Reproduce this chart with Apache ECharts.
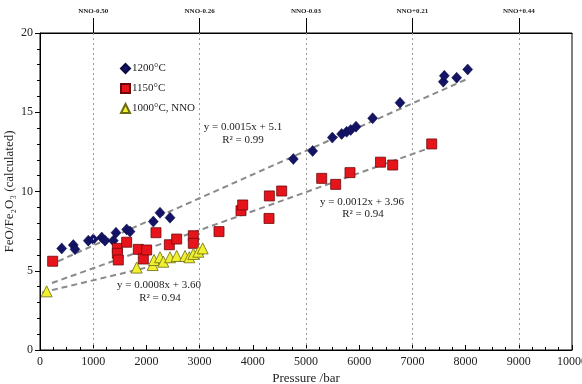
<!DOCTYPE html>
<html>
<head>
<meta charset="utf-8">
<script src="https://cdn.jsdelivr.net/npm/echarts@6/dist/echarts.min.js"></script>
<style>
  html, body { margin: 0; padding: 0; background: #fff; }
  #chart-container { width: 582px; height: 384px; }
</style>
</head>
<body>
<div id="chart-container"></div>
<script>
var dom = document.getElementById('chart-container');
var myChart = echarts.init(dom, null, { renderer: 'canvas' });

// data: [pressure bar, FeO/Fe2O3]
var pts1200 = [
  [408, 6.41], [626, 6.62], [658, 6.35], [908, 6.9], [1002, 6.98], [1160, 7.1],
  [1222, 6.9], [1378, 6.9], [1428, 7.4], [1629, 7.61], [1692, 7.47], [2130, 8.1],
  [2256, 8.66], [2444, 8.35], [4762, 12.05], [5125, 12.56], [5495, 13.4],
  [5670, 13.63], [5764, 13.77], [5840, 13.88], [5940, 14.09], [6253, 14.62],
  [6767, 15.6], [7581, 16.93], [7600, 17.3], [7832, 17.18], [8039, 17.7]
];
var pts1150 = [
  [238, 5.6], [1454, 6.41], [1454, 6.1], [1472, 5.68], [1629, 6.8], [1848, 6.35],
  [1942, 5.74], [2005, 6.31], [2180, 7.4], [2431, 6.64], [2569, 7.0], [2882, 7.21],
  [2882, 6.73], [3365, 7.47], [3778, 8.79], [3810, 9.15], [4305, 8.3], [4311, 9.72],
  [4543, 10.03], [5295, 10.83], [5558, 10.45], [5827, 11.19], [6400, 11.85],
  [6630, 11.67], [7363, 13.0]
];
var pts1000 = [
  [125, 3.7], [1817, 5.2], [2118, 5.36], [2143, 5.68], [2256, 5.85], [2318, 5.57],
  [2444, 5.85], [2569, 5.93], [2726, 5.93], [2806, 5.85], [2882, 6.06], [2976, 6.2],
  [3058, 6.41]
];
// trend line ends
var fit1200 = [[340, 5.6], [8030, 17.1]];
var fit1150 = [[225, 4.23], [7330, 12.76]];
var fit1000 = [[40, 3.63], [3150, 6.12]];

var nnoPressure = [1000, 3000, 5000, 7000, 9000];
var nnoLabels = ['NNO-0.50', 'NNO-0.26', 'NNO-0.03', 'NNO+0.21', 'NNO+0.44'];

var serif = 'Liberation Serif';
var fitStyle = { color: '#8a8a8a', width: 2, type: [6, 4] };

var option = {
  animation: false,
  textStyle: { fontFamily: serif },
  grid: {
    left: 40, right: 10, top: 33, bottom: 34, show: true,
    borderColor: '#000', borderWidth: 1, outerBoundsMode: 'none', containLabel: false
  },
  legend: {
    orient: 'vertical', left: 115, top: 58, itemGap: 9, itemWidth: 9, itemHeight: 9,
    textStyle: { fontFamily: serif, fontSize: 11, color: '#222', padding: [0, 0, 0, -3] },
    data: [
      { name: '1200°C', icon: 'diamond' },
      { name: '1150°C', icon: 'rect' },
      { name: '1000°C, NNO', icon: 'triangle' }
    ]
  },
  xAxis: [
    {
      type: 'value', min: 0, max: 10000, interval: 1000,
      name: 'Pressure /bar', nameLocation: 'middle', nameGap: 22, nameMoveOverlap: false,
      nameTextStyle: { fontFamily: serif, fontSize: 13, color: '#222' },
      axisLine: { lineStyle: { color: '#000' } },
      axisTick: { inside: true, length: 5, lineStyle: { color: '#000' } },
      minorTick: { show: true, splitNumber: 4, length: 3, lineStyle: { color: '#000' } },
      axisLabel: {
        fontFamily: serif, fontSize: 12, color: '#222', margin: 6,
        formatter: function (v) { return String(v); }
      },
      splitLine: { show: false }
    },
    {
      type: 'value', min: 0, max: 10000, position: 'top',
      axisLine: { show: true, lineStyle: { color: '#000' } },
      axisTick: { show: true, customValues: nnoPressure, length: 15, lineStyle: { color: '#000' } },
      axisLabel: {
        customValues: nnoPressure, margin: 18, fontFamily: serif, fontSize: 7,
        fontWeight: 'bold', color: '#222',
        formatter: function (v) { return nnoLabels[nnoPressure.indexOf(v)] || ''; }
      },
      splitLine: { show: false }
    }
  ],
  yAxis: {
    type: 'value', min: 0, max: 20, interval: 5,
    name: 'FeO/Fe₂O₃ (calculated)', nameLocation: 'middle', nameGap: 24, nameMoveOverlap: false,
    nameTextStyle: { fontFamily: serif, fontSize: 13, color: '#222' },
    axisLine: { show: true, lineStyle: { color: '#000' } },
    axisTick: { show: true, length: 5, lineStyle: { color: '#000' } },
    minorTick: { show: true, splitNumber: 5, length: 3, lineStyle: { color: '#000' } },
    axisLabel: { fontFamily: serif, fontSize: 12, color: '#222', margin: 7 },
    splitLine: { show: false }
  },
  series: [
    {
      type: 'line', data: fit1200, symbol: 'none', lineStyle: fitStyle, silent: true, z: 1,
      markLine: {
        silent: true, symbol: 'none', label: { show: false },
        lineStyle: { color: '#999', width: 1, type: [2, 3] },
        data: nnoPressure.map(function (p) { return { xAxis: p }; })
      }
    },
    { type: 'line', data: fit1150, symbol: 'none', lineStyle: fitStyle, silent: true, z: 1 },
    { type: 'line', data: fit1000, symbol: 'none', lineStyle: fitStyle, silent: true, z: 1 },
    {
      name: '1200°C', type: 'scatter', data: pts1200, symbol: 'diamond', symbolSize: [10, 11],
      itemStyle: { color: '#141466', borderColor: '#0a0a40', borderWidth: 0.5, opacity: 1 }, z: 3
    },
    {
      name: '1150°C', type: 'scatter', data: pts1150, symbol: 'rect', symbolSize: 10,
      itemStyle: { color: '#e8141c', borderColor: '#6a0a0a', borderWidth: 0.8, opacity: 1 }, z: 3
    },
    {
      name: '1000°C, NNO', type: 'scatter', data: pts1000, symbol: 'triangle', symbolSize: 11,
      itemStyle: { color: '#f0f030', borderColor: '#6b6b10', borderWidth: 0.8, opacity: 1 }, z: 4
    }
  ]
};

// fit equations as plain text
var eqStyle = { fontFamily: serif, fontSize: 11, fill: '#222', textAlign: 'center' };
option.graphic = [
  { type: 'text', x: 243, y: 122, style: Object.assign({ text: 'y = 0.0015x + 5.1' }, eqStyle) },
  { type: 'text', x: 243, y: 135, style: Object.assign({ text: 'R² = 0.99' }, eqStyle) },
  { type: 'text', x: 362, y: 197, style: Object.assign({ text: 'y = 0.0012x + 3.96' }, eqStyle) },
  { type: 'text', x: 363, y: 209, style: Object.assign({ text: 'R² = 0.94' }, eqStyle) },
  { type: 'text', x: 159, y: 280, style: Object.assign({ text: 'y = 0.0008x + 3.60' }, eqStyle) },
  { type: 'text', x: 160, y: 293, style: Object.assign({ text: 'R² = 0.94' }, eqStyle) }
];

myChart.setOption(option);
window.addEventListener('resize', myChart.resize);
</script>
</body>
</html>
